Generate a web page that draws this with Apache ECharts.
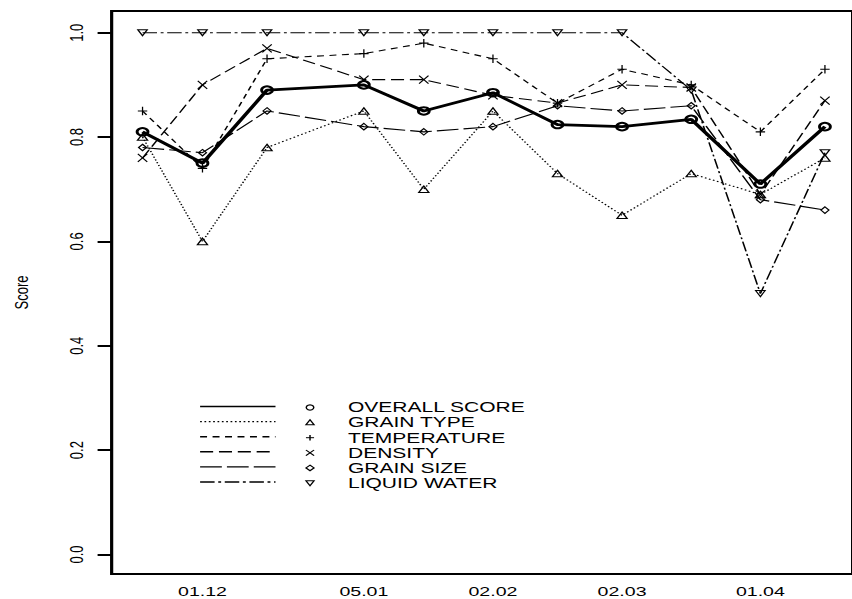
<!DOCTYPE html>
<html>
<head>
<meta charset="utf-8">
<title>Score</title>
<script src="https://cdn.jsdelivr.net/npm/echarts@6/dist/echarts.min.js"></script>
<style>
    html, body { margin: 0; padding: 0; background: #fff; overflow: hidden; }
    /* the original plot is stretched sideways: draw it narrow, then widen it */
    #main { width: 587.6px; height: 599px; transform: scaleX(1.45); transform-origin: 0 0; }
</style>
</head>
<body>
<div id="main"></div>
<script>
// observation days, counted from 1 December
var days = [-13, 0, 14, 35, 48, 63, 77, 91, 106, 121, 135];
var tickDays = [0, 35, 63, 91, 121];
var tickLabels = ['01.12', '05.01', '02.02', '02.03', '01.04'];
var yTicks = [0, 0.2, 0.4, 0.6, 0.8, 1.0];

var seriesNames = ['OVERALL SCORE', 'GRAIN TYPE', 'TEMPERATURE', 'DENSITY', 'GRAIN SIZE', 'LIQUID WATER'];
var overallScore = [0.81, 0.75, 0.89, 0.90, 0.85, 0.885, 0.824, 0.82, 0.834, 0.71, 0.82];
var grainType = [0.80, 0.60, 0.78, 0.85, 0.70, 0.85, 0.73, 0.65, 0.73, 0.69, 0.76];
var temperature = [0.85, 0.74, 0.95, 0.96, 0.98, 0.95, 0.865, 0.93, 0.90, 0.81, 0.93];
var density = [0.76, 0.90, 0.97, 0.91, 0.91, 0.88, 0.865, 0.90, 0.895, 0.69, 0.87];
var grainSize = [0.78, 0.77, 0.85, 0.82, 0.81, 0.82, 0.86, 0.85, 0.86, 0.68, 0.66];
var liquidWater = [1.0, 1.0, 1.0, 1.0, 1.0, 1.0, 1.0, 1.0, 0.89, 0.50, 0.77];

var FONT = '"Liberation Sans", Arial, sans-serif';
var PLUS = 'path://M0,5L10,5M5,0L5,10';
var CROSS = 'path://M0,0L10,10M10,0L0,10';

// line look and marker of every series (same order as seriesNames)
var styles = [
    { values: overallScore, dash: 'solid', width: 2.8, symbol: 'circle', size: [7.5, 7.5], rotate: 0, border: 2, legend: 'circle' },
    { values: grainType, dash: [1.2, 1.8], width: 1.1, symbol: 'triangle', size: [7, 6.5], rotate: 0, border: 1, legend: 'up' },
    { values: temperature, dash: [4.8, 3.8], width: 1.1, symbol: PLUS, size: [6.5, 8.5], rotate: 0, border: 1, legend: 'plus' },
    { values: density, dash: [9, 4], width: 1.1, symbol: CROSS, size: [6.5, 8], rotate: 0, border: 1, legend: 'cross' },
    { values: grainSize, dash: [15, 3.5], width: 1.1, symbol: 'diamond', size: [5.5, 6.5], rotate: 0, border: 1, legend: 'diamond' },
    { values: liquidWater, dash: [10, 2.5, 2, 2.5], width: 1.1, symbol: 'triangle', size: [6.5, 6], rotate: 180, border: 1, legend: 'down' }
];

function pairs(values) {
    var out = [];
    for (var i = 0; i < days.length; i++) {
        out.push([days[i], values[i]]);
    }
    return out;
}

var series = [];
for (var i = 0; i < styles.length; i++) {
    var s = styles[i];
    series.push({
        name: seriesNames[i],
        type: 'line',
        data: pairs(s.values),
        z: i == 0 ? 5 : 2,
        symbol: s.symbol,
        symbolSize: s.size,
        symbolRotate: s.rotate,
        showAllSymbol: true,
        lineStyle: { color: '#000', width: s.width, type: s.dash },
        itemStyle: { color: 'transparent', borderColor: '#000', borderWidth: s.border },
        emphasis: { disabled: true }
    });
}

// legend drawn by hand: line sample, marker, label
function legendMarker(kind, cx, cy) {
    var st = { fill: 'none', stroke: '#000', lineWidth: 1 };
    var r = 2.8;
    if (kind == 'circle') return [{ type: 'circle', shape: { cx: cx, cy: cy, r: 2.6 }, style: st }];
    if (kind == 'up') return [{ type: 'polygon', shape: { points: [[cx, cy - r], [cx + r, cy + r * 0.8], [cx - r, cy + r * 0.8]] }, style: st }];
    if (kind == 'down') return [{ type: 'polygon', shape: { points: [[cx, cy + r], [cx + r, cy - r * 0.8], [cx - r, cy - r * 0.8]] }, style: st }];
    if (kind == 'diamond') return [{ type: 'polygon', shape: { points: [[cx, cy - r], [cx + r, cy], [cx, cy + r], [cx - r, cy]] }, style: st }];
    if (kind == 'plus') return [
        { type: 'line', shape: { x1: cx - r, y1: cy, x2: cx + r, y2: cy }, style: st },
        { type: 'line', shape: { x1: cx, y1: cy - r, x2: cx, y2: cy + r }, style: st }
    ];
    return [
        { type: 'line', shape: { x1: cx - r, y1: cy - r, x2: cx + r, y2: cy + r }, style: st },
        { type: 'line', shape: { x1: cx + r, y1: cy - r, x2: cx - r, y2: cy + r }, style: st }
    ];
}

var legendEls = [];
for (var j = 0; j < seriesNames.length; j++) {
    var y = 407.5 + 15.1 * j;
    var dash = styles[j].dash == 'solid' ? null : styles[j].dash;
    legendEls.push({
        type: 'line',
        shape: { x1: 138, y1: y - 1, x2: 190, y2: y - 1 },
        style: { stroke: '#000', lineWidth: 1.4, lineDash: dash }
    });
    legendEls = legendEls.concat(legendMarker(styles[j].legend, 213.8, y));
    legendEls.push({
        type: 'text',
        x: 240,
        y: y,
        style: { text: seriesNames[j], fill: '#000', font: '14.5px ' + FONT, verticalAlign: 'middle' }
    });
}

var myChart = echarts.init(document.getElementById('main'), null, { renderer: 'svg' });

var option = {
    animation: false,
    grid: {
        left: 76.3,
        top: 11,
        width: 518,
        height: 563,
        show: true,
        borderColor: '#000',
        borderWidth: 2.2
    },
    xAxis: {
        type: 'value',
        min: -19.7,
        max: 141,
        axisLine: { show: false, onZero: false },
        axisTick: { show: false },
        splitLine: { show: false },
        axisLabel: {
            customValues: tickDays,
            margin: 11,
            color: '#000',
            fontSize: 13.5,
            fontFamily: FONT,
            formatter: function(v) {
                return tickLabels[tickDays.indexOf(v)];
            }
        }
    },
    yAxis: {
        type: 'value',
        min: -0.0374,
        max: 1.0416,
        name: 'Score',
        nameLocation: 'middle',
        nameRotate: 90,
        nameGap: 56,
        nameTextStyle: { color: '#000', fontSize: 13, fontFamily: FONT },
        axisLine: { show: false, onZero: false },
        axisTick: { show: true, length: 9.7, customValues: yTicks, lineStyle: { color: '#000', width: 2 } },
        splitLine: { show: false },
        axisLabel: {
            customValues: yTicks,
            rotate: 90,
            margin: 18,
            color: '#000',
            fontSize: 13,
            fontFamily: FONT,
            formatter: function(v) {
                return v.toFixed(1);
            }
        }
    },
    graphic: legendEls,
    series: series
};

myChart.setOption(option);
</script>
</body>
</html>
